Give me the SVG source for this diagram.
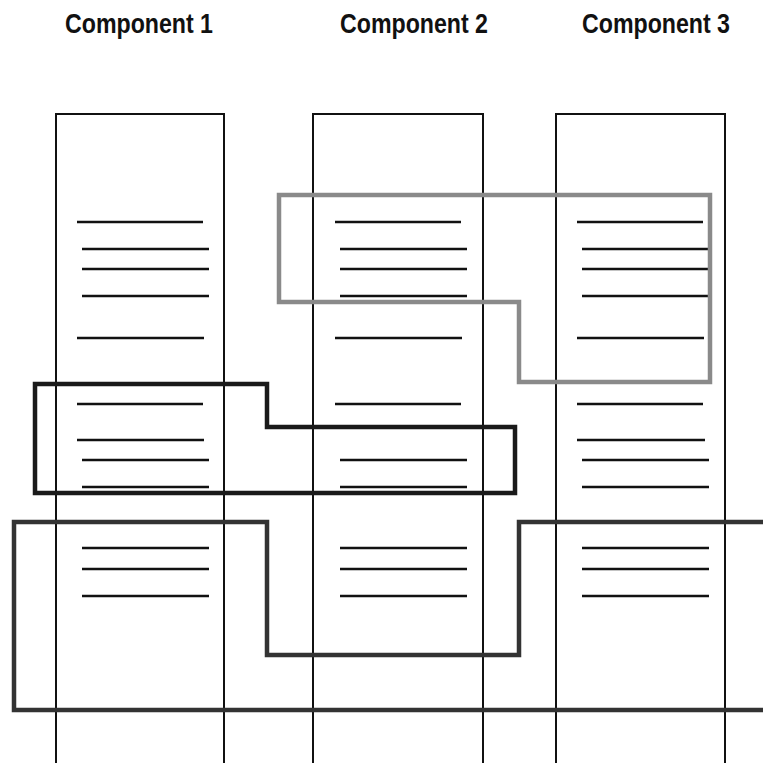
<svg xmlns="http://www.w3.org/2000/svg" width="763" height="763" viewBox="0 0 763 763">
<style>
.title{font-family:"Liberation Sans",Arial,sans-serif;font-weight:bold;font-size:27px;fill:#111;text-anchor:middle}
.col{fill:none;stroke:#111;stroke-width:2}
.ln{stroke:#111;stroke-width:2.5;fill:none}
.grp{fill:none;stroke-width:4.5;stroke-linejoin:miter}
</style>
<rect width="763" height="763" fill="#fff"/>
<defs>
<g id="lines">
<line class="ln" x1="77" y1="222" x2="203" y2="222"/>
<line class="ln" x1="82" y1="249" x2="209" y2="249"/>
<line class="ln" x1="82" y1="269" x2="209" y2="269"/>
<line class="ln" x1="82" y1="296" x2="209" y2="296"/>
<line class="ln" x1="77" y1="338" x2="204" y2="338"/>
<line class="ln" x1="77" y1="404" x2="203" y2="404"/>
<line class="ln" x1="82" y1="460" x2="209" y2="460"/>
<line class="ln" x1="82" y1="487" x2="209" y2="487"/>
<line class="ln" x1="82" y1="548" x2="209" y2="548"/>
<line class="ln" x1="82" y1="569" x2="209" y2="569"/>
<line class="ln" x1="82" y1="596" x2="209" y2="596"/>
</g>
</defs>
<g id="component1">
<text class="title" x="139" y="33" textLength="148" lengthAdjust="spacingAndGlyphs">Component 1</text>
<path class="col" d="M56,763 V114 H224 V763"/>
<use href="#lines"/>
<line class="ln" x1="77" y1="440" x2="204" y2="440"/>
</g>
<g id="component2">
<text class="title" x="414" y="33" textLength="148" lengthAdjust="spacingAndGlyphs">Component 2</text>
<path class="col" d="M313,763 V114 H483 V763"/>
<use href="#lines" transform="translate(258,0)"/>
</g>
<g id="component3">
<text class="title" x="656" y="33" textLength="148" lengthAdjust="spacingAndGlyphs">Component 3</text>
<path class="col" d="M556,763 V114 H725 V763"/>
<use href="#lines" transform="translate(500,0)"/>
<line class="ln" x1="577" y1="440" x2="705" y2="440"/>
</g>
<g id="connectors">
<path id="group-gray" class="grp" stroke="#8a8a8a" d="M279,195 H710 V382 H519 V302 H279 Z"/>
<path id="group-black" class="grp" stroke="#1a1a1a" d="M35,384 H267 V427 H515 V493 H35 Z"/>
<path id="group-dark" class="grp" stroke="#333" d="M763,522 H519 V655 H267 V522 H14 V710 H763"/>
</g>
</svg>
